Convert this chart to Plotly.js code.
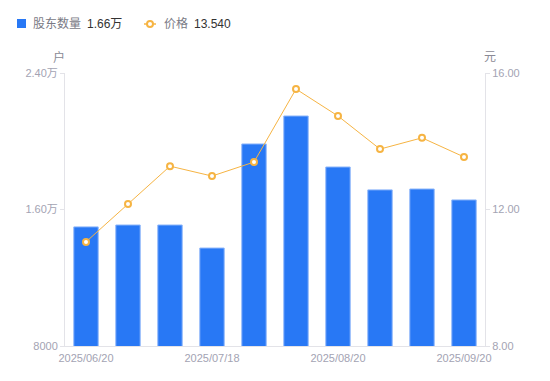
<!DOCTYPE html>
<html>
<head>
<meta charset="utf-8">
<script src="https://cdn.plot.ly/plotly-3.0.1.min.js"></script>
<style>html,body{margin:0;padding:0;background:#fff;}#chart{width:550px;height:381px;}</style>
</head>
<body>
<div id="chart"></div>
<script>
var dates = ["2025/06/20","2025/06/30","2025/07/10","2025/07/18","2025/07/31","2025/08/10","2025/08/20","2025/08/31","2025/09/10","2025/09/20"];
var holders = [14980, 15090, 15090, 13740, 19840, 21480, 18490, 17150, 17200, 16560];
var prices = [11.05, 12.16, 13.27, 12.98, 13.39, 15.53, 14.74, 13.77, 14.10, 13.54];
var xTickLabels = ["2025/06/20","2025/07/18","2025/08/20","2025/09/20"];
var leftTickVals = [8000, 16000, 24000];
var leftTickText = ["8000", "1.60万", "2.40万"];
var rightTickVals = [8, 12, 16];
var rightTickText = ["8.00", "12.00", "16.00"];

var W = 550, H = 381, L = 65, R = 65, T = 73, B = 35;
var pw = W - L - R, ph = H - T - B;
function px(x){ return (x - L) / pw; }
function py(y){ return (H - B - y) / ph; }

var fontFam = "Liberation Sans, Arial, Noto Sans CJK SC, sans-serif";
var tickColor = "#a3a3b3";

var traces = [
  {
    type: "bar", x: dates, y: holders, yaxis: "y", name: "股东数量",
    marker: {color: "#2878f5", line: {color: "#8ab4fa", width: 1}},
    width: 0.58, hoverinfo: "x+y"
  },
  {
    type: "scatter", mode: "lines+markers", x: dates, y: prices, yaxis: "y2", name: "价格",
    line: {color: "#f6b443", width: 1},
    marker: {symbol: "circle", size: 6, color: "#ffffff", line: {color: "#f6b443", width: 2}}
  }
];

var layout = {
  width: W, height: H,
  margin: {l: L, r: R, t: T, b: B, pad: 0},
  paper_bgcolor: "#fff", plot_bgcolor: "#fff",
  showlegend: false,
  bargap: 0.42,
  font: {family: fontFam, size: 11, color: tickColor},
  xaxis: {
    type: "category",
    tickmode: "array", tickvals: xTickLabels, ticktext: xTickLabels,
    showline: true, linecolor: "#e3e3e8", linewidth: 1,
    showgrid: false, zeroline: false, ticks: "",
    ticklabelstandoff: 2,
    tickfont: {family: fontFam, size: 11, color: tickColor},
    range: [-0.5, 9.5], fixedrange: true
  },
  yaxis: {
    range: [8000, 24000],
    tickmode: "array", tickvals: leftTickVals, ticktext: leftTickText,
    showline: true, linecolor: "#e3e3e8", linewidth: 1,
    showgrid: false, zeroline: false,
    ticks: "outside", ticklen: 4, tickcolor: "#e3e3e8",
    tickfont: {family: fontFam, size: 11, color: tickColor}
  },
  yaxis2: {
    range: [8, 16], overlaying: "y", side: "right",
    tickmode: "array", tickvals: rightTickVals, ticktext: rightTickText,
    showline: true, linecolor: "#e3e3e8", linewidth: 1,
    showgrid: false, zeroline: false,
    ticks: "outside", ticklen: 4, tickcolor: "#e3e3e8",
    tickfont: {family: fontFam, size: 11, color: tickColor}
  },
  shapes: [
    {type: "rect", xref: "paper", yref: "paper", x0: px(17), x1: px(26), y0: py(28), y1: py(19),
     fillcolor: "#2878f5", line: {width: 0}},
    {type: "line", xref: "paper", yref: "paper", x0: px(144), x1: px(156), y0: py(24), y1: py(24),
     line: {color: "#f6b443", width: 1.5}},
    {type: "circle", xref: "paper", yref: "paper", x0: px(147), x1: px(153), y0: py(27), y1: py(21),
     fillcolor: "#fff", line: {color: "#f6b443", width: 2}}
  ],
  annotations: [
    {xref: "paper", yref: "paper", x: px(31), y: py(24), xanchor: "left", yanchor: "middle",
     text: "股东数量", showarrow: false, font: {family: fontFam, size: 12, color: "#7a7a85"}},
    {xref: "paper", yref: "paper", x: px(85), y: py(24), xanchor: "left", yanchor: "middle",
     text: "1.66万", showarrow: false, font: {family: fontFam, size: 12, color: "#333"}},
    {xref: "paper", yref: "paper", x: px(162), y: py(24), xanchor: "left", yanchor: "middle",
     text: "价格", showarrow: false, font: {family: fontFam, size: 12, color: "#7a7a85"}},
    {xref: "paper", yref: "paper", x: px(192), y: py(24), xanchor: "left", yanchor: "middle",
     text: "13.540", showarrow: false, font: {family: fontFam, size: 12, color: "#333"}},
    {xref: "paper", yref: "paper", x: px(59), y: py(57), xanchor: "center", yanchor: "middle",
     text: "户", showarrow: false, font: {family: fontFam, size: 12, color: "#8a8a95"}},
    {xref: "paper", yref: "paper", x: px(490), y: py(57), xanchor: "center", yanchor: "middle",
     text: "元", showarrow: false, font: {family: fontFam, size: 12, color: "#8a8a95"}}
  ]
};

Plotly.newPlot("chart", traces, layout, {displayModeBar: false, staticPlot: true});
</script>
</body>
</html>
